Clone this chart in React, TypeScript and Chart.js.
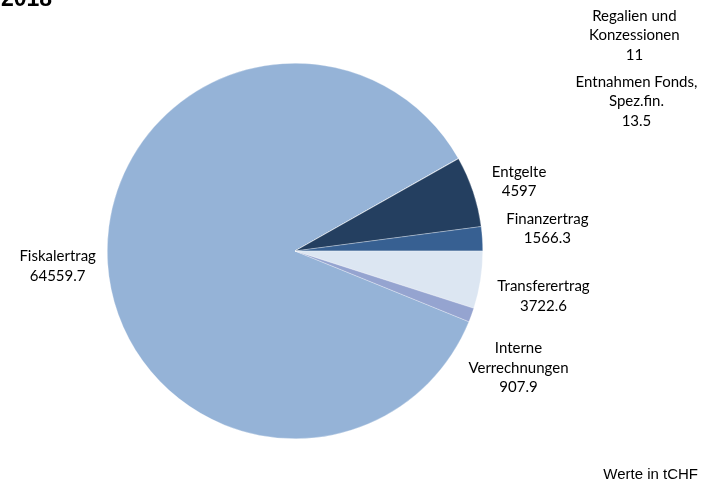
import React, { useEffect, useRef } from "react";
import { Chart, registerables } from "chart.js";

Chart.register(...registerables);

const categories: string[][] = [
  ["Fiskalertrag"],
  ["Regalien und", "Konzessionen"],
  ["Entnahmen Fonds,", "Spez.fin."],
  ["Entgelte"],
  ["Finanzertrag"],
  ["Transferertrag"],
  ["Interne", "Verrechnungen"],
];
const values: number[] = [64559.7, 11, 13.5, 4597, 1566.3, 3722.6, 907.9];
const valueLabels: string[] = ["64559.7", "11", "13.5", "4597", "1566.3", "3722.6", "907.9"];
const colors: string[] = ["#95B3D7", "#95B3D7", "#95B3D7", "#243F60", "#376092", "#DCE6F2", "#95A4D0"];
// label offsets (px) from each slice's outer mid-point
const labelOffsets: [number, number][] = [
  [-50, 3],
  [176, -123],
  [178, -57],
  [46, -10],
  [65, -10],
  [63, 16],
  [47, 53],
];
const titleText = "2018";
const noteText = "Werte in tCHF";

const labelPlugin = {
  id: "sliceLabels",
  afterDraw(chart: any) {
    const ctx = chart.ctx;
    const meta = chart.getDatasetMeta(0);
    ctx.save();
    ctx.fillStyle = "#000";
    ctx.textAlign = "center";
    ctx.textBaseline = "middle";
    ctx.font = "15px Lato";
    const lh = 19.5;
    meta.data.forEach((arc: any, i: number) => {
      const p = arc.getProps(["x", "y", "startAngle", "endAngle", "outerRadius"], true);
      const mid = (p.startAngle + p.endAngle) / 2;
      const ax = p.x + Math.cos(mid) * p.outerRadius + labelOffsets[i][0];
      const ay = p.y + Math.sin(mid) * p.outerRadius + labelOffsets[i][1];
      const lines = [...categories[i], valueLabels[i]];
      const top = ay - ((lines.length - 1) * lh) / 2;
      lines.forEach((ln, k) => ctx.fillText(ln, ax, top + k * lh));
    });
    ctx.font = "bold 23px 'Liberation Sans', Arial";
    ctx.textAlign = "left";
    ctx.textBaseline = "alphabetic";
    ctx.fillText(titleText, 1, 6);
    ctx.font = "15px 'Liberation Sans', Arial";
    ctx.textAlign = "right";
    ctx.fillText(noteText, 698, 479);
    ctx.restore();
  },
};

export default function App() {
  const ref = useRef<HTMLCanvasElement>(null);
  useEffect(() => {
    document.body.style.margin = "0";
    const chart = new Chart(ref.current!, {
      type: "pie",
      data: {
        labels: categories.map((c) => c.join(" ")),
        datasets: [
          {
            data: values,
            backgroundColor: colors,
            borderColor: "rgba(255,255,255,0.6)",
            borderWidth: 0.5,
          },
        ],
      },
      options: {
        responsive: false,
        animation: false,
        rotation: 112.12,
        layout: { padding: { top: 63, bottom: 47, left: 107, right: 221 } },
        plugins: {
          legend: { display: false },
          tooltip: { enabled: false },
          title: { display: false },
        },
      },
      plugins: [labelPlugin],
    });
    return () => chart.destroy();
  }, []);
  return (
    <div style={{ width: 704, height: 486, background: "#fff" }}>
      <canvas ref={ref} width={704} height={486} />
    </div>
  );
}
